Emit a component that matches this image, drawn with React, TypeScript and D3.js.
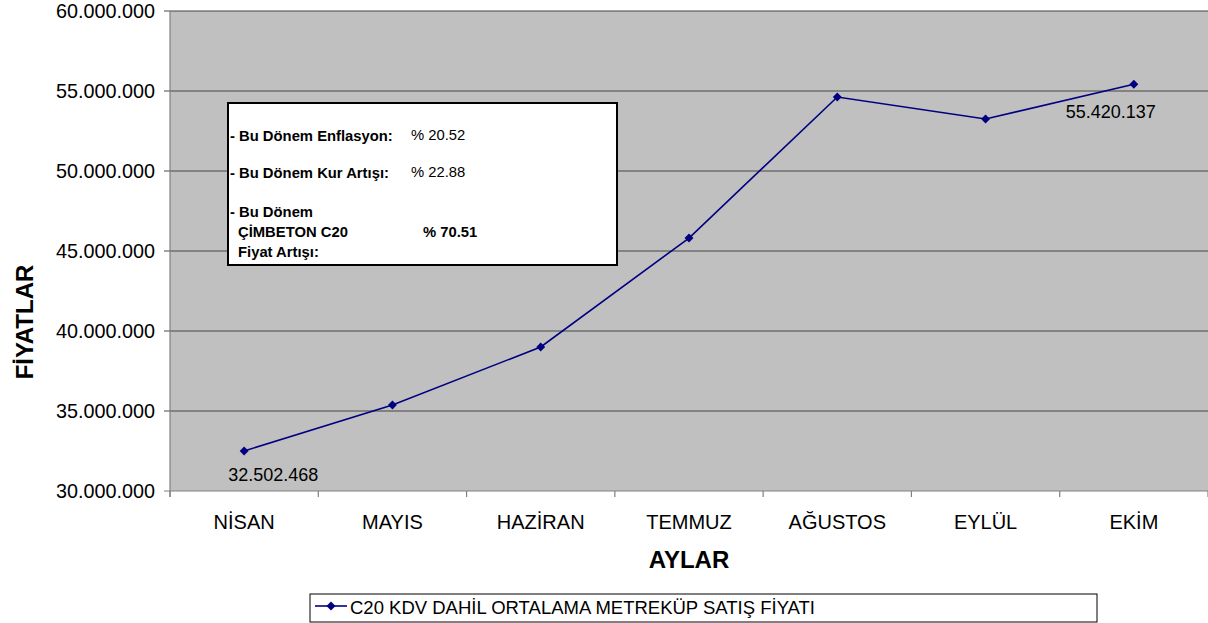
import React, { useEffect, useRef } from "react";
import * as d3 from "d3";

const months = ["NİSAN", "MAYIS", "HAZİRAN", "TEMMUZ", "AĞUSTOS", "EYLÜL", "EKİM"];
const prices = [32502468, 35375000, 39000000, 45810000, 54625000, 53250000, 55420137];
const yTicks = [30000000, 35000000, 40000000, 45000000, 50000000, 55000000, 60000000];
// labels shown only on first and last point
const labelled = [0, 6];

const fmt = (v: number) => d3.format(",")(v).replace(/,/g, ".");

const App = () => {
  const ref = useRef<SVGSVGElement | null>(null);

  useEffect(() => {
    if (!ref.current) return;
    const width = 1208, height = 623;
    const left = 170, right = 1208, top = 11, bottom = 491;

    const svg = d3.select(ref.current);
    svg.selectAll("*").remove();
    svg.attr("width", width).attr("height", height)
      .style("font-family", "Arial, 'Liberation Sans', sans-serif");

    const x = d3.scaleBand().domain(months).range([left, right]);
    const y = d3.scaleLinear().domain([30000000, 60000000]).range([bottom, top]);

    svg.append("rect")
      .attr("x", left).attr("y", top)
      .attr("width", right - left).attr("height", bottom - top)
      .attr("fill", "#c0c0c0");

    // grid lines
    svg.selectAll(".grid")
      .data(yTicks)
      .enter().append("line")
      .attr("x1", left - 6).attr("x2", right)
      .attr("y1", d => y(d)).attr("y2", d => y(d))
      .attr("stroke", d => d === 30000000 ? "#808080" : "#444")
      .attr("stroke-width", 1.2);

    // y axis line
    svg.append("line")
      .attr("x1", left).attr("x2", left)
      .attr("y1", top).attr("y2", bottom + 6)
      .attr("stroke", "#808080").attr("stroke-width", 1.2);

    svg.selectAll(".ylab")
      .data(yTicks)
      .enter().append("text")
      .attr("x", left - 15)
      .attr("y", d => y(d) + 7)
      .attr("text-anchor", "end")
      .attr("font-size", "19.8px")
      .attr("fill", "#000")
      .text(d => fmt(d));

    // x ticks between categories
    const bounds = months.map(m => x(m) as number).concat([right]);
    svg.selectAll(".xtick")
      .data(bounds)
      .enter().append("line")
      .attr("x1", d => d).attr("x2", d => d)
      .attr("y1", bottom).attr("y2", bottom + 6)
      .attr("stroke", "#808080").attr("stroke-width", 1.2);

    svg.selectAll(".xlab")
      .data(months)
      .enter().append("text")
      .attr("x", d => (x(d) as number) + x.bandwidth() / 2)
      .attr("y", 529)
      .attr("text-anchor", "middle")
      .attr("font-size", "20px")
      .text(d => d);

    svg.append("text")
      .attr("x", 689).attr("y", 568)
      .attr("text-anchor", "middle")
      .attr("font-size", "24px").attr("font-weight", "bold")
      .text("AYLAR");

    svg.append("text")
      .attr("transform", "translate(33,322) rotate(-90)")
      .attr("text-anchor", "middle")
      .attr("font-size", "24px").attr("font-weight", "bold")
      .text("FİYATLAR");

    const cx = (i: number) => (x(months[i]) as number) + x.bandwidth() / 2;

    const line = d3.line<number>()
      .x((_, i) => cx(i))
      .y(d => y(d));

    svg.append("path")
      .datum(prices)
      .attr("d", line)
      .attr("fill", "none")
      .attr("stroke", "#000080")
      .attr("stroke-width", 1.6);

    // excel style diamond: a square turned 45 degrees
    const diamond = d3.symbol().type(d3.symbolSquare).size(40);
    svg.selectAll(".pt")
      .data(prices)
      .enter().append("path")
      .attr("d", diamond)
      .attr("transform", (d, i) => `translate(${cx(i)},${y(d)}) rotate(45)`)
      .attr("fill", "#000080");

    svg.selectAll(".dl")
      .data(labelled)
      .enter().append("text")
      .attr("x", i => i === 0 ? cx(i) - 16 : cx(i) + 22)
      .attr("y", i => y(prices[i]) + (i === 0 ? 30 : 34))
      .attr("text-anchor", i => i === 0 ? "start" : "end")
      .attr("font-size", "18px")
      .text(i => fmt(prices[i]));

    // info box
    const box = svg.append("g");
    box.append("rect")
      .attr("x", 228).attr("y", 103)
      .attr("width", 389).attr("height", 162)
      .attr("fill", "#fff").attr("stroke", "#000").attr("stroke-width", 2);

    const bold = (tx: number, ty: number, s: string) =>
      box.append("text").attr("x", tx).attr("y", ty)
        .attr("font-size", "14.8px").attr("font-weight", "bold").text(s);
    const plain = (tx: number, ty: number, s: string) =>
      box.append("text").attr("x", tx).attr("y", ty)
        .attr("font-size", "14.8px").text(s);

    bold(230, 141, "- Bu Dönem Enflasyon:");
    plain(411, 140, "% 20.52");
    bold(230, 178, "- Bu Dönem Kur Artışı:");
    plain(411, 177, "% 22.88");
    bold(230, 217, "- Bu Dönem");
    bold(238, 237, "ÇİMBETON C20");
    bold(423, 237, "% 70.51");
    bold(238, 257, "Fiyat Artışı:");

    // legend
    const lg = svg.append("g");
    lg.append("rect")
      .attr("x", 310).attr("y", 594)
      .attr("width", 787).attr("height", 28)
      .attr("fill", "#fff").attr("stroke", "#000").attr("stroke-width", 1);
    lg.append("line")
      .attr("x1", 315).attr("x2", 347)
      .attr("y1", 606).attr("y2", 606)
      .attr("stroke", "#000080").attr("stroke-width", 1.6);
    lg.append("path")
      .attr("d", diamond)
      .attr("transform", "translate(331,606) rotate(45)")
      .attr("fill", "#000080");
    lg.append("text")
      .attr("x", 350).attr("y", 614)
      .attr("font-size", "18.5px")
      .text("C20 KDV DAHİL ORTALAMA METREKÜP SATIŞ FİYATI");
  }, []);

  return <svg ref={ref} style={{ position: "absolute", left: 0, top: 0 }}></svg>;
};

export default App;
